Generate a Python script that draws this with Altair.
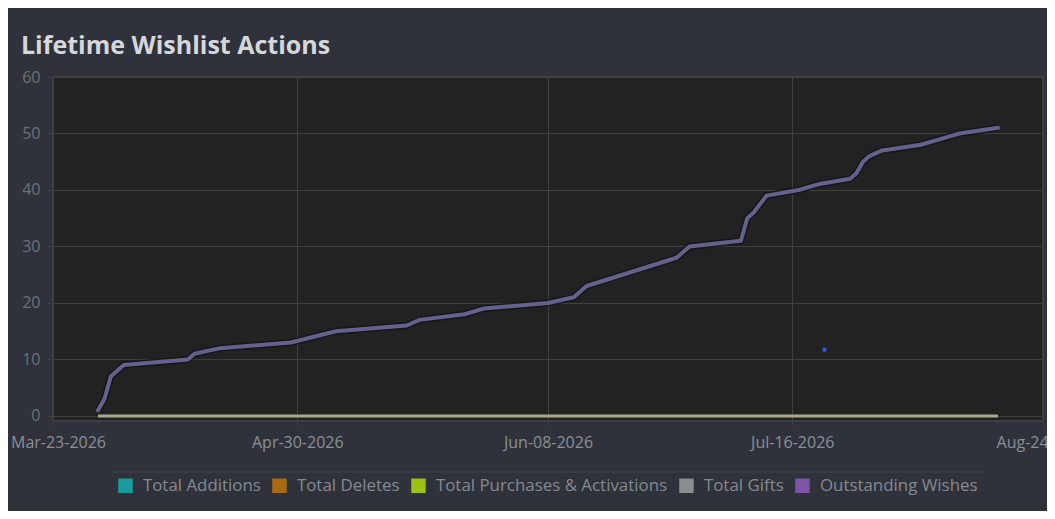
import altair as alt
import pandas as pd

# ---- data ----
wish_dates = [
    "2026-03-30", "2026-03-31", "2026-04-01", "2026-04-02", "2026-04-03",
    "2026-04-13", "2026-04-14", "2026-04-18", "2026-04-29", "2026-05-06",
    "2026-05-17", "2026-05-19", "2026-05-26", "2026-05-29", "2026-06-08",
    "2026-06-12", "2026-06-14", "2026-06-28", "2026-06-30", "2026-07-08",
    "2026-07-09", "2026-07-10", "2026-07-12", "2026-07-17", "2026-07-20",
    "2026-07-25", "2026-07-26", "2026-07-27", "2026-07-28", "2026-07-30",
    "2026-08-05", "2026-08-08", "2026-08-11", "2026-08-17",
]
wish_values = [
    1, 3, 7, 8, 9,
    10, 11, 12, 13, 15,
    16, 17, 18, 19, 20,
    21, 23, 28, 30, 31,
    35, 36, 39, 40, 41,
    42, 43, 45, 46, 47,
    48, 49, 50, 51,
]
zero_dates = ["2026-03-30", "2026-08-17"]
zero_values = [0, 0]

legend_names = ["Total Additions", "Total Deletes", "Total Purchases & Activations",
                "Total Gifts", "Outstanding Wishes"]
legend_colors = ["#1a9c9e", "#a86a10", "#9cc212", "#8c8c91", "#7d55a8"]

cursor_dates = ["2026-07-21"]
cursor_values = [11.7]

x_domain = ["2026-03-23", "2026-08-24"]
x_ticks = ["2026-03-23", "2026-04-30", "2026-06-08", "2026-07-16", "2026-08-24"]
y_ticks = [0, 10, 20, 30, 40, 50, 60]


def dt(s):
    y, m, d = (int(p) for p in s.split("-"))
    return alt.DateTime(year=y, month=m, date=d, utc=True)


wish_df = pd.DataFrame({"date": wish_dates, "value": wish_values})
zero_df = pd.DataFrame({"date": zero_dates, "value": zero_values})
cursor_df = pd.DataFrame({"date": cursor_dates, "value": cursor_values})
# legend swatches placed before the visible range (clipped away), only feeding the legend
legend_df = pd.DataFrame({"date": ["2026-01-01"] * len(legend_names),
                          "value": [0] * len(legend_names),
                          "series": legend_names})

FONT = "Open Sans"

x_enc = alt.X(
    "date:T",
    scale=alt.Scale(type="utc", domain=[dt(s) for s in x_domain], nice=False),
    axis=alt.Axis(values=[dt(s) for s in x_ticks], format="%b-%d-%Y", title=None,
                  grid=True, gridColor="#404040", domain=False,
                  tickColor="#404040", tickSize=4, labelPadding=9,
                  labelFont=FONT, labelFontSize=16, labelColor="#8b8f97",
                  labelOffset=alt.ExprRef("datum.index == 0 ? 5 : 0"),
                  labelOverlap=False, labelBound=False, labelFlush=False),
)
y_enc = alt.Y(
    "value:Q",
    scale=alt.Scale(domain=[-0.9, 60], nice=False, zero=False),
    axis=alt.Axis(values=y_ticks, title=None, grid=True, gridColor="#404040",
                  domain=False, tickColor="#404040", tickSize=6, labelPadding=7,
                  labelFont=FONT, labelFontSize=16, labelColor="#6c7078"),
)

zero_line = alt.Chart(zero_df).mark_line(color="#a9a98e", strokeWidth=3, clip=True).encode(
    x=x_enc, y=y_enc)

wish_shadow = alt.Chart(wish_df).mark_line(
    color="#141418", strokeWidth=7, opacity=0.8, strokeJoin="round", clip=True
).encode(x=x_enc, y=y_enc)

wish_line = alt.Chart(wish_df).mark_line(
    color="#64628c", strokeWidth=4, strokeJoin="round", strokeCap="round", clip=True
).encode(x=x_enc, y=y_enc)

cursor_pt = alt.Chart(cursor_df).mark_circle(color="#3554e6", size=20, opacity=1).encode(
    x=x_enc, y=y_enc)

legend_layer = alt.Chart(legend_df).mark_square(clip=True, size=200).encode(
    x=x_enc, y=y_enc,
    color=alt.Color(
        "series:N",
        scale=alt.Scale(domain=legend_names, range=legend_colors),
        sort=legend_names,
        legend=alt.Legend(
            title=None, orient="none", legendX=64, legendY=400,
            direction="horizontal", symbolType="square", symbolSize=210,
            symbolStrokeWidth=0, symbolOpacity=1, labelFont=FONT,
            labelFontSize=16.9, labelColor="#858991", labelOffset=9,
            columnPadding=10, labelLimit=400,
        ),
    ),
)

legend_rule = alt.Chart(pd.DataFrame({"k": [0]})).mark_rule(
    color="#3f434b", strokeWidth=1, clip=False
).encode(x=alt.value(59), x2=alt.value(931), y=alt.value(395))

chart = alt.layer(
    legend_layer, zero_line, wish_shadow, wish_line, cursor_pt, legend_rule
).properties(
    width=990,
    height=344,
    autosize=alt.AutoSizeParams(type="none"),
    padding={"left": 45, "top": 69, "right": 4, "bottom": 90},
    title=alt.TitleParams(
        "Lifetime Wishlist Actions", anchor="start", frame="group", dx=-32,
        offset=-10, baseline="alphabetic", font=FONT, fontSize=25,
        fontWeight="bold", color="#d5d7da",
    ),
).configure(
    background="#2f323a",
).configure_view(
    fill="#222222", stroke="#3d3e41", strokeWidth=2,
)

chart.save("out.html", embed_options={"renderer": "svg", "actions": False})
